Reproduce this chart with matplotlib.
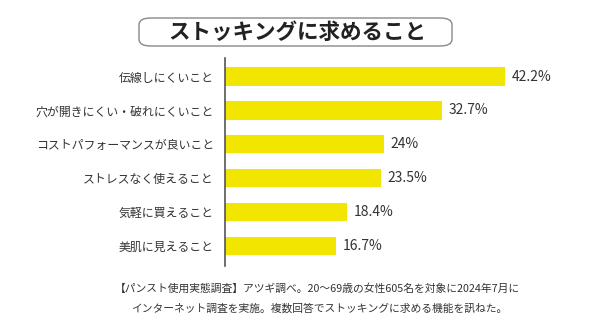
import matplotlib.pyplot as plt
from matplotlib.patches import FancyBboxPatch

plt.rcParams['font.family'] = ['Noto Sans CJK JP', 'DejaVu Sans']

# data
categories = ['伝線しにくいこと', '穴が開きにくい・破れにくいこと', 'コストパフォーマンスが良いこと',
              'ストレスなく使えること', '気軽に買えること', '美肌に見えること']
values = [42.2, 32.7, 24.0, 23.5, 18.4, 16.7]
value_labels = ['42.2%', '32.7%', '24%', '23.5%', '18.4%', '16.7%']
title = 'ストッキングに求めること'
note_1 = '【パンスト使用実態調査】アツギ調べ。20〜69歳の女性605名を対象に2024年7月に'
note_2 = 'インターネット調査を実施。複数回答でストッキングに求める機能を訊ねた。'

W, H = 591, 332
fig = plt.figure(figsize=(W / 100, H / 100), dpi=100)
fig.patch.set_facecolor('white')

# axes: x from 225px to 591px, y from 58px to 266px
ax = fig.add_axes([225 / W, 1 - 266 / H, (W - 225) / W, (266 - 58) / H])
pos = list(range(len(categories)))
ax.barh(pos, values, height=0.54, color='#f2e600')
ax.set_ylim(len(categories) - 0.4, -0.55)
ax.set_xlim(0, (W - 225) / 6.635)
for s in ['top', 'right', 'bottom']:
    ax.spines[s].set_visible(False)
ax.spines['left'].set_color('#555555')
ax.spines['left'].set_linewidth(1.2)
ax.set_xticks([])
ax.set_yticks(pos)
ax.set_yticklabels(categories, fontsize=8.6, color='#333333')
ax.tick_params(axis='y', length=0, pad=8)
for p, v, lab in zip(pos, values, value_labels):
    ax.text(v + 1.0, p, lab, va='center', ha='left', fontsize=10, color='#333333')

# title in rounded box
box = FancyBboxPatch((139 / W, 1 - 46 / H), (452 - 139) / W, 28 / H,
                     boxstyle='round,pad=0,rounding_size=0.02',
                     transform=fig.transFigure, facecolor='white',
                     edgecolor='#888888', linewidth=1.0)
fig.patches.append(box)
fig.text(297 / W, 1 - 32 / H, title, ha='center', va='center',
         fontsize=15.5, fontweight='bold', color='#222222')

fig.text(317 / W, 1 - 289 / H, note_1, ha='center', va='center', fontsize=7.75, color='#333333')
fig.text(319 / W, 1 - 309 / H, note_2, ha='center', va='center', fontsize=7.75, color='#333333')

fig.savefig('out.png', dpi=100)
